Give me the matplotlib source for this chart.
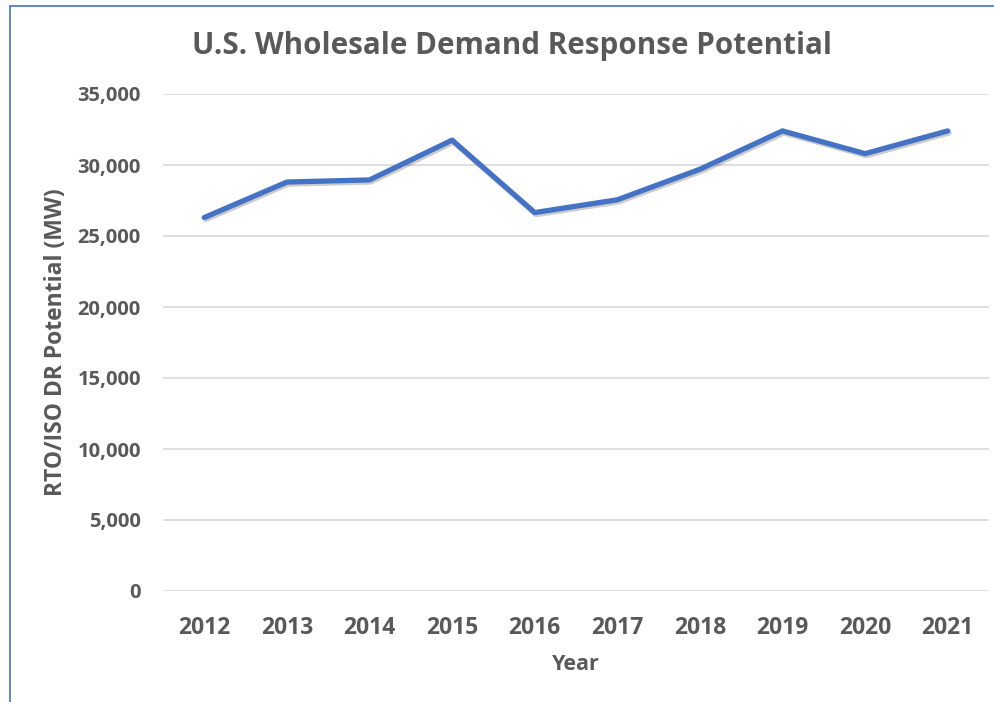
import matplotlib.pyplot as plt
import matplotlib.patheffects as pe
from matplotlib.patches import Rectangle

years = ["2012", "2013", "2014", "2015", "2016", "2017", "2018", "2019", "2020", "2021"]
dr_potential = [26300, 28800, 28950, 31750, 26650, 27550, 29700, 32400, 30800, 32400]

plt.rcParams['font.family'] = ['Open Sans', 'DejaVu Sans']
gray = '#595959'

fig = plt.figure(figsize=(9.95, 7.02), dpi=100)
ax = fig.add_axes([163 / 995, 1 - 591 / 702, (989 - 163) / 995, (591 - 94) / 702])

x = range(len(years))
ax.plot(x, dr_potential, color='#4472C4', linewidth=3.8, solid_capstyle='round',
        path_effects=[pe.SimpleLineShadow(offset=(1, -1.5), shadow_color='black', alpha=0.2),
                      pe.Normal()], zorder=3)

ax.set_xlim(-0.5, len(years) - 0.5)
ax.set_ylim(0, 35000)
ax.set_yticks(range(0, 35001, 5000))
ax.set_yticklabels([f"{v:,}" for v in range(0, 35001, 5000)])
ax.set_xticks(list(x))
ax.set_xticklabels(years)
ax.grid(axis='y', color='#D9D9D9', linewidth=1.2)
ax.set_axisbelow(True)
for s in ax.spines.values():
    s.set_visible(False)
ax.tick_params(length=0, labelcolor=gray)
ax.tick_params(axis='y', labelsize=14.5, pad=16)
ax.tick_params(axis='x', labelsize=16.5, pad=18)
for lab in ax.get_xticklabels() + ax.get_yticklabels():
    lab.set_fontweight('bold')

ax.set_ylabel("RTO/ISO DR Potential (MW)", fontsize=16.5, fontweight='bold', color=gray, labelpad=7)
ax.set_xlabel("Year", fontsize=15.5, fontweight='bold', color=gray, labelpad=10)
fig.text(512 / 995, 1 - 46 / 702, "U.S. Wholesale Demand Response Potential",
         ha='center', va='center', fontsize=21.3, fontweight='bold', color=gray)

# chart border (partly cropped in the original)
fig.patches.append(Rectangle((10 / 995, -0.05), 1.0, 1 - 6 / 702 + 0.05,
                             transform=fig.transFigure, fill=False,
                             edgecolor='#4472C4', linewidth=1.2))

fig.savefig("out.png", dpi=100)
